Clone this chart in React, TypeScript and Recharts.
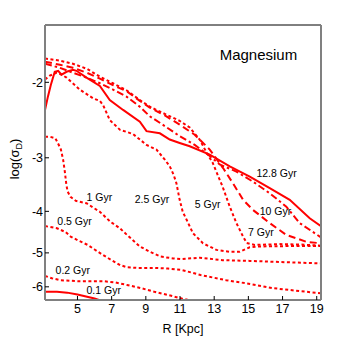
import React from "react";
import { LineChart, Line, XAxis, YAxis, ReferenceDot } from "recharts";

const FONT = "'Liberation Sans', Arial, Helvetica, sans-serif";

// axis ticks
const rTicks = [5, 7, 9, 11, 13, 15, 17, 19];
const logTicks = [-6, -5, -4, -3, -2];

// [R (Kpc), log(sigma_D)], one list per time step
const gyr01 = [[3.1, -6.16], [3.8, -6.16], [4.4, -6.19], [5.0, -6.25], [5.5, -6.32], [6.0, -6.39], [6.3, -6.45], [6.7, -6.53]];
const gyr02 = [[3.1, -5.66], [3.5, -5.73], [4.0, -5.79], [5.0, -5.82], [5.7, -5.82], [6.5, -5.82], [7.2, -5.86], [7.9, -5.94], [8.7, -6.04], [9.5, -6.16], [10.3, -6.27], [11.1, -6.39], [11.9, -6.49], [12.5, -6.58]];
const gyr05 = [[3.1, -4.33], [3.8, -4.38], [4.3, -4.47], [4.6, -4.58], [5.1, -4.69], [5.6, -4.79], [6.0, -4.91], [6.5, -5.06], [7.0, -5.2], [7.5, -5.34], [7.9, -5.4], [8.5, -5.42], [9.5, -5.42], [10.3, -5.44], [11.1, -5.48], [12.2, -5.63], [13.7, -5.79], [14.9, -5.89], [16.4, -6.04], [18.0, -6.14], [19.25, -6.21]];
const gyr1 = [[3.1, -2.68], [3.4, -2.68], [3.7, -2.7], [3.85, -2.77], [4.03, -2.87], [4.16, -3.03], [4.26, -3.23], [4.35, -3.47], [4.43, -3.6], [4.59, -3.7], [4.9, -3.78], [5.53, -3.83], [5.96, -3.93], [6.31, -4.01], [6.93, -4.23], [7.48, -4.38], [7.9, -4.54], [8.65, -4.83], [9.23, -4.97], [9.86, -5.1], [10.6, -5.15], [11.12, -5.17], [12.15, -5.13], [13.5, -5.2], [15.08, -5.22], [16.83, -5.25], [19.25, -5.29]];
const gyr25 = [[3.1, -1.97], [3.38, -1.93], [3.77, -1.9], [4.08, -1.92], [4.36, -1.95], [5.14, -2.08], [5.92, -2.18], [6.31, -2.21], [6.5, -2.26], [6.89, -2.45], [7.48, -2.58], [8.25, -2.64], [9.04, -2.8], [9.62, -2.87], [10.11, -3.03], [10.4, -3.14], [10.63, -3.29], [10.79, -3.44], [10.98, -3.76], [11.16, -4.01], [11.38, -4.18], [11.76, -4.5], [12.35, -4.75], [13.13, -4.92], [13.91, -4.97], [14.49, -4.97], [15.08, -4.85], [15.67, -4.83], [17.42, -4.82], [19.25, -4.82]];
const gyr5 = [[3.1, -1.76], [3.97, -1.78], [4.73, -1.81], [5.55, -1.86], [6.31, -1.94], [7.07, -2.01], [7.89, -2.09], [8.65, -2.2], [9.23, -2.28], [10.11, -2.37], [10.98, -2.46], [11.57, -2.55], [12.15, -2.72], [12.56, -2.92], [12.91, -3.08], [13.15, -3.25], [13.5, -3.51], [13.91, -3.9], [14.3, -4.26], [14.69, -4.58], [14.9, -4.74], [15.37, -4.79], [16.83, -4.77], [18.0, -4.78], [19.25, -4.81]];
const gyr7 = [[3.1, -1.79], [3.97, -1.82], [4.73, -1.85], [5.55, -1.9], [6.31, -1.96], [7.07, -2.03], [7.89, -2.1], [8.65, -2.21], [9.23, -2.29], [10.11, -2.39], [10.98, -2.51], [11.86, -2.65], [12.74, -2.87], [13.52, -3.17], [14.1, -3.44], [14.69, -3.76], [15.27, -3.97], [16.25, -4.26], [17.22, -4.54], [18.39, -4.71], [19.25, -4.75]];
const gyr10 = [[3.1, -1.81], [3.97, -1.85], [4.74, -1.9], [5.53, -1.95], [6.31, -2.01], [7.08, -2.08], [7.87, -2.16], [8.65, -2.28], [9.23, -2.4], [10.11, -2.53], [10.98, -2.67], [11.86, -2.8], [12.74, -2.97], [13.32, -3.11], [14.3, -3.23], [15.27, -3.41], [16.25, -3.63], [17.22, -3.9], [18.0, -4.26], [19.25, -4.6]];
const gyr128 = [[3.1, -2.32], [3.27, -2.16], [3.44, -2.03], [3.67, -1.89], [3.87, -1.88], [4.07, -1.92], [4.36, -1.89], [4.74, -1.87], [4.94, -1.88], [5.53, -1.95], [6.31, -2.04], [6.89, -2.2], [7.67, -2.32], [8.65, -2.47], [9.04, -2.6], [9.82, -2.63], [10.4, -2.72], [10.98, -2.77], [11.57, -2.82], [12.74, -2.95], [13.91, -3.14], [15.08, -3.32], [16.25, -3.53], [17.42, -3.76], [18.59, -4.15], [19.25, -4.33]];

const DOT = "3 2.5";
const DASH = "7 4";
const DASHDOT = "7 3 2.5 3";

const series = [
  { key: "0.1", pts: gyr01, dash: undefined },
  { key: "0.2", pts: gyr02, dash: DOT },
  { key: "0.5", pts: gyr05, dash: DOT },
  { key: "1", pts: gyr1, dash: DOT },
  { key: "2.5", pts: gyr25, dash: DOT },
  { key: "5", pts: gyr5, dash: DOT },
  { key: "7", pts: gyr7, dash: DASH },
  { key: "10", pts: gyr10, dash: DASHDOT },
  { key: "12.8", pts: gyr128, dash: undefined },
];

// where the curve names sit (left end of text)
const curveLabels = [
  { text: "12.8 Gyr", r: 15.47, v: -3.26 },
  { text: "10 Gyr", r: 15.66, v: -4.0 },
  { text: "7 Gyr", r: 14.98, v: -4.47 },
  { text: "5 Gyr", r: 11.86, v: -3.84 },
  { text: "2.5 Gyr", r: 8.35, v: -3.74 },
  { text: "1 Gyr", r: 5.53, v: -3.7 },
  { text: "0.5 Gyr", r: 3.82, v: -4.21 },
  { text: "0.2 Gyr", r: 3.72, v: -5.5 },
  { text: "0.1 Gyr", r: 5.53, v: -6.115 },
];

const toPts = (a: number[][]) => a.map(([r, v]) => ({ r, v }));

const TextAt = (props: any) => {
  const { viewBox, value, size } = props;
  if (!viewBox) return null;
  return (
    <text x={viewBox.x} y={viewBox.y} dy="0.36em" fontSize={size} fontFamily={FONT} fill="#000">
      {value}
    </text>
  );
};

const YLabel = () => (
  <text transform="translate(11,151) rotate(-90)" textAnchor="middle" fontSize={13} fontFamily={FONT} fill="#000">
    log(σ<tspan dy={3} fontSize={9}>D</tspan><tspan dy={-3}>)</tspan>
  </text>
);

const XLabel = (props: any) => {
  const { viewBox } = props;
  return (
    <text x={viewBox.x + viewBox.width / 2} y={viewBox.y + 32.5} textAnchor="middle" fontSize={12.5} fontFamily={FONT} fill="#000">
      R [Kpc]
    </text>
  );
};

const tickStyle = { fontSize: 12.5, fontFamily: FONT, fill: "#000" };
const grayAxis = { stroke: "#808080", strokeWidth: 2 };

export default function App() {
  const xDomain: [number, number] = [3.1, 19.25];
  const yDomain: [number, number] = [-6.44, -1.47];
  return (
    <LineChart width={346} height={330} margin={{ top: 12, right: 28, bottom: 8, left: 0 }}>
      <XAxis
        dataKey="r"
        type="number"
        domain={xDomain}
        ticks={rTicks}
        allowDataOverflow
        height={30}
        tickSize={-4}
        tickMargin={8}
        tick={tickStyle}
        axisLine={grayAxis}
        tickLine={{ stroke: "#000" }}
        label={<XLabel />}
      />
      <XAxis
        xAxisId="top"
        orientation="top"
        dataKey="r"
        type="number"
        domain={xDomain}
        ticks={rTicks}
        allowDataOverflow
        height={5}
        tickSize={-4}
        tick={false}
        axisLine={{ stroke: "#000", strokeWidth: 1 }}
        tickLine={{ stroke: "#000" }}
      />
      <YAxis
        type="number"
        scale="log"
        domain={yDomain}
        ticks={logTicks}
        allowDataOverflow
        width={37}
        tickSize={-4}
        tickMargin={6}
        tick={tickStyle}
        axisLine={grayAxis}
        tickLine={{ stroke: "#000" }}
        label={<YLabel />}
      />
      <YAxis
        yAxisId="right"
        orientation="right"
        type="number"
        scale="log"
        domain={yDomain}
        ticks={logTicks}
        allowDataOverflow
        width={5}
        tickSize={-4}
        tick={false}
        axisLine={grayAxis}
        tickLine={{ stroke: "#000" }}
      />
      {series.map((s) => (
        <Line
          key={s.key}
          data={toPts(s.pts)}
          dataKey="v"
          type="linear"
          stroke="#ff0000"
          strokeWidth={2}
          strokeDasharray={s.dash}
          dot={false}
          activeDot={false}
          isAnimationActive={false}
        />
      ))}
      {curveLabels.map((l) => (
        <ReferenceDot key={l.text} x={l.r} y={l.v} r={0} label={<TextAt value={l.text} size={10.5} />} />
      ))}
      <ReferenceDot x={13.32} y={-1.723} r={0} label={<TextAt value="Magnesium" size={15} />} />
    </LineChart>
  );
}
